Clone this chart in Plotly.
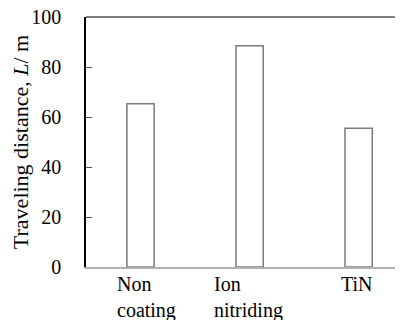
import plotly.graph_objects as go

categories = ["Non<br>coating", "Ion<br>nitriding", "TiN"]
values = [65.3, 88.5, 55.5]
label_offsets = [-0.237, -0.343, -0.177]
y_ticks = [0, 20, 40, 60, 80, 100]

FONT = "Liberation Serif"
xs = list(range(len(categories)))

fig = go.Figure()
fig.add_trace(go.Bar(
    x=xs, y=values, width=0.25,
    marker=dict(color="white", line=dict(color="#7a7a7a", width=1.5)),
    showlegend=False, hoverinfo="skip",
))

for i, (cat, off) in enumerate(zip(categories, label_offsets)):
    fig.add_annotation(
        x=i + off, y=0, xref="x", yref="paper", text=cat,
        showarrow=False, xanchor="left", yanchor="top", align="left",
        yshift=-4, font=dict(family=FONT, size=20, color="black"),
    )

fig.add_shape(type="line", xref="paper", yref="paper", x0=0, x1=1, y0=1, y1=1,
              line=dict(color="#555555", width=1.5))

fig.update_layout(
    width=403, height=320,
    margin=dict(l=78, r=0, t=9, b=61, autoexpand=False),
    plot_bgcolor="white", paper_bgcolor="white",
    font=dict(family=FONT, size=20, color="black"),
    xaxis=dict(range=[-0.5, 2.48], showticklabels=False, ticks="",
               showgrid=False, zeroline=False, showline=True,
               linecolor="#b0b0b0", linewidth=2),
    yaxis=dict(range=[0, 100], tickvals=y_ticks, ticks="inside", ticklen=6,
               tickcolor="#555555", showgrid=False, zeroline=False,
               showline=True, linecolor="black", linewidth=1.5,
               ticklabelstandoff=19, automargin=False,
               ticklabeloverflow="allow",
               tickfont=dict(family=FONT, size=20),
               title=dict(text="Traveling distance, <i>L</i>/ m", standoff=4,
                          font=dict(family=FONT, size=22))),
)

fig.write_html("out.html")
